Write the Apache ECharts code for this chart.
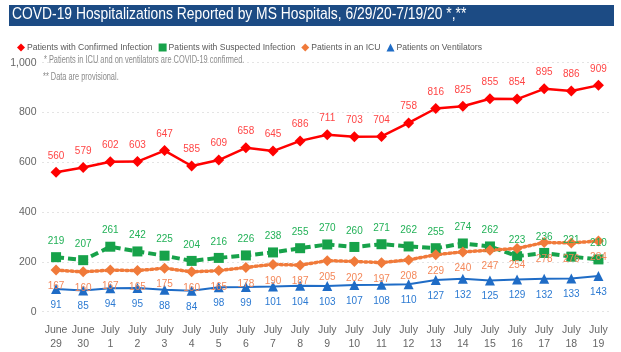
<!DOCTYPE html>
<html>
<head>
<meta charset="utf-8">
<script src="https://cdn.jsdelivr.net/npm/echarts@6/dist/echarts.min.js"></script>
<style>
  html, body { margin: 0; padding: 0; background: #fff; }
  #chart { width: 621px; height: 352px; }
</style>
</head>
<body>
<div id="chart"></div>
<script>
// dates on the x axis
const days = ['June\n29', 'June\n30', 'July\n1', 'July\n2', 'July\n3', 'July\n4', 'July\n5', 'July\n6',
  'July\n7', 'July\n8', 'July\n9', 'July\n10', 'July\n11', 'July\n12', 'July\n13', 'July\n14',
  'July\n15', 'July\n16', 'July\n17', 'July\n18', 'July\n19'];

const confirmed = [560, 579, 602, 603, 647, 585, 609, 658, 645, 686, 711, 703, 704, 758, 816, 825, 855, 854, 895, 886, 909];
const suspected = [219, 207, 261, 242, 225, 204, 216, 226, 238, 255, 270, 260, 271, 262, 255, 274, 262, 223, 236, 221, 210];
const icu = [167, 160, 167, 165, 175, 160, 165, 178, 190, 187, 205, 202, 197, 208, 229, 240, 247, 254, 278, 276, 284];
const vents = [91, 85, 94, 95, 88, 84, 98, 99, 101, 104, 103, 107, 108, 110, 127, 132, 125, 129, 132, 133, 143];

const yTicks = {min: 0, max: 1000, step: 200};

const font = "'Liberation Sans', Arial, sans-serif";

const chart = echarts.init(document.getElementById('chart'));

// small helper so the four series look alike
const makeLine = (name, data, color, labelColor, symbol, size, lineStyle, pos) => ({
  name: name,
  type: 'line',
  data: data,
  symbol: symbol,
  symbolSize: size,
  itemStyle: {color: color},
  lineStyle: Object.assign({color: color}, lineStyle),
  label: {
    show: true,
    position: pos,
    distance: 6,
    color: labelColor,
    fontSize: 10,
    fontFamily: font
  }
});

chart.setOption({
  animation: false,
  textStyle: {fontFamily: font},
  graphic: [
    // dark blue title bar
    {type: 'rect', left: 9, top: 5, shape: {width: 605, height: 21}, style: {fill: '#1C4B84'}},
    {
      type: 'text', x: 12, y: 6, scaleX: 0.815,
      style: {
        text: 'COVD-19 Hospitalizations Reported by MS Hospitals, 6/29/20-7/19/20 *,**',
        fill: '#fff', font: "17px " + font
      }
    },
    {
      type: 'text', x: 44, y: 55, scaleX: 0.74,
      style: {text: '* Patients in ICU and on ventilators are COVID-19 confirmed.', fill: '#8a8a8a', font: "10px " + font}
    },
    {
      type: 'text', x: 43, y: 72, scaleX: 0.74,
      style: {text: '** Data are provisional.', fill: '#8a8a8a', font: "10px " + font}
    }
  ],
  legend: {
    left: 12,
    top: 38,
    itemWidth: 8,
    itemHeight: 8,
    itemGap: 6,
    textStyle: {fontSize: 8.6, color: '#595959', padding: [0, 0, 0, -3]},
    data: [
      {name: 'Patients with Confirmed Infection', icon: 'diamond'},
      {name: 'Patients with Suspected Infection', icon: 'rect'},
      {name: 'Patients in an ICU', icon: 'diamond'},
      {name: 'Patients on Ventilators', icon: 'triangle'}
    ]
  },
  grid: {left: 42.5, right: 9, top: 62.7, bottom: 40.3},
  xAxis: {
    type: 'category',
    data: days,
    axisLine: {show: false},
    axisTick: {show: false},
    axisLabel: {color: '#666', fontSize: 10.5, lineHeight: 14, margin: 11, interval: 0}
  },
  yAxis: {
    type: 'value',
    min: yTicks.min,
    max: yTicks.max,
    interval: yTicks.step,
    axisLine: {show: false},
    axisTick: {show: false},
    axisLabel: {color: '#666', fontSize: 10.5, margin: 6},
    splitLine: {lineStyle: {color: '#c8c8c8', type: [1, 4], width: 1}}
  },
  series: [
    makeLine('Patients with Confirmed Infection', confirmed, '#FF0000', '#FF4545', 'diamond', 11, {width: 2.5}, 'top'),
    makeLine('Patients with Suspected Infection', suspected, '#17A24A', '#22B157', 'rect', 10, {width: 4, type: [8, 4]}, 'top'),
    makeLine('Patients in an ICU', icu, '#F07A3A', '#F4885A', 'diamond', 11, {width: 3.5, type: [2, 3], cap: 'round'}, 'bottom'),
    makeLine('Patients on Ventilators', vents, '#1F6CC6', '#2C7AD2', 'triangle', 10, {width: 2}, 'bottom')
  ]
});
</script>
</body>
</html>
